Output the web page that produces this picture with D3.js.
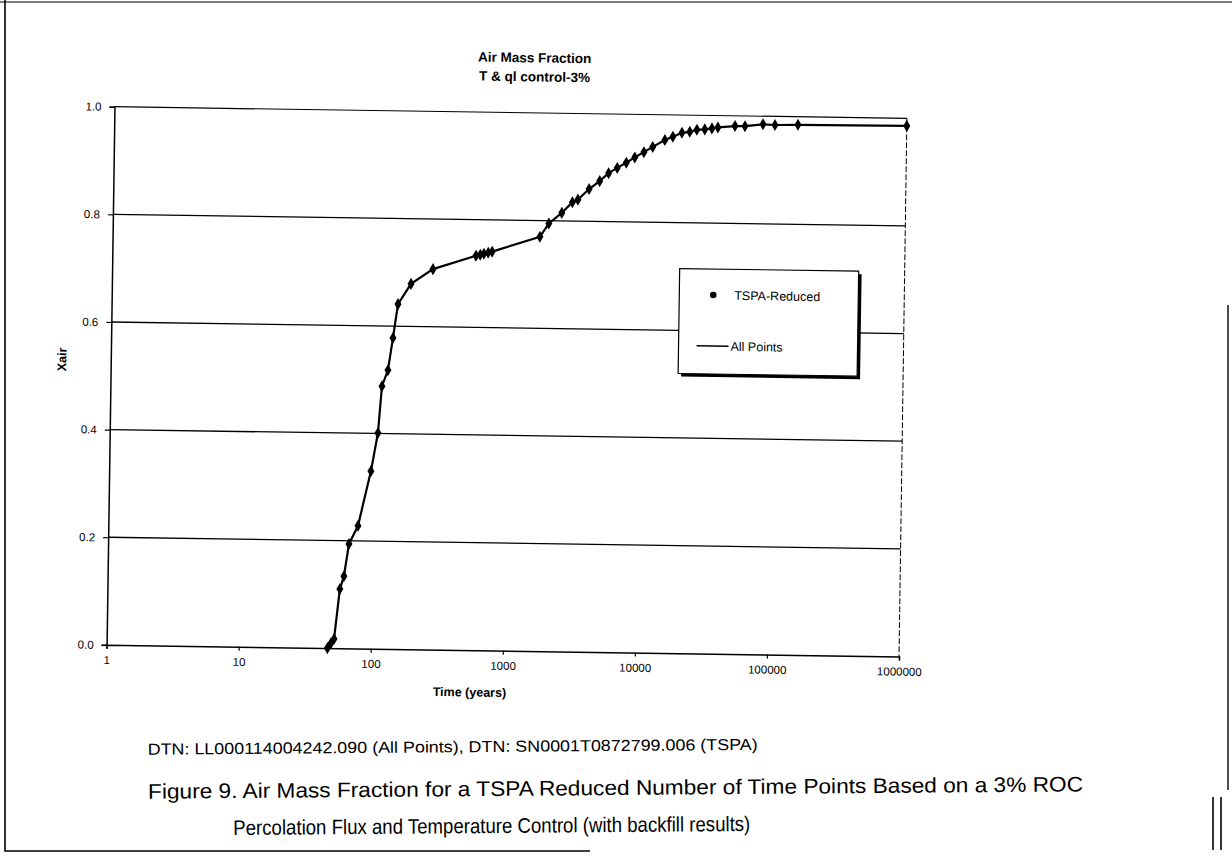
<!DOCTYPE html>
<html>
<head>
<meta charset="utf-8">
<script src="https://cdn.jsdelivr.net/npm/d3@7"></script>
<style>
  html, body { margin: 0; padding: 0; background: #fff; }
  svg { display: block; }
  text { font-family: "Liberation Sans", Arial, sans-serif; fill: #000; }
</style>
</head>
<body>
<svg id="fig" width="1232" height="861"></svg>
<script>
// Air mass fraction (Xair) vs. time, TSPA reduced time points
const years = [47, 49.9, 52.6, 57.5, 61.5, 66.6, 77.6, 95.9, 107.3, 113.7, 125.7, 136.1, 147.3, 183.8, 268.6,
  566, 610, 650, 700, 750, 1718, 2000, 2500, 3000, 3300, 4000, 4800, 5600, 6500, 7600, 8800, 10300, 12000,
  14800, 17000, 19900, 22800, 25800, 29600, 33500, 37200, 50100, 59600, 81500, 100500, 150000, 1000000];
const xair = [0.0, 0.009, 0.017, 0.110, 0.134, 0.194, 0.228, 0.330, 0.401, 0.488, 0.518, 0.578, 0.641, 0.679, 0.707,
  0.733, 0.735, 0.737, 0.739, 0.741, 0.770, 0.795, 0.815, 0.835, 0.840, 0.860, 0.875, 0.890, 0.900, 0.910, 0.920, 0.930, 0.940,
  0.953, 0.9595, 0.967, 0.969, 0.973, 0.974, 0.976, 0.978, 0.981, 0.981, 0.985, 0.984, 0.985, 0.986];

const xTickValues = [1, 10, 100, 1000, 10000, 100000, 1000000];
const yTickValues = [0, 0.2, 0.4, 0.6, 0.8, 1.0];

const titleLines = ["Air Mass Fraction", "T & ql control-3%"];
const xTitle = "Time (years)";
const yTitle = "Xair";
const legendLabels = ["TSPA-Reduced", "All Points"];
const dtnLine = "DTN:  LL000114004242.090 (All Points), DTN:  SN0001T0872799.006 (TSPA)";
const captionLines = [
  "Figure 9.  Air Mass Fraction for a TSPA Reduced Number of Time Points Based on a 3% ROC",
  "Percolation Flux and Temperature Control (with backfill results)"
];

const plot = { left: 110.5, right: 903, top: 112.5, bottom: 650.7 };

const svg = d3.select("#fig");

// page frame
svg.append("path")
  .attr("d", "M5,0 L5,851 L590,851")
  .attr("fill", "none").attr("stroke", "#000").attr("stroke-width", 1.6);
svg.append("line").attr("x1", 0).attr("x2", 1232).attr("y1", 2).attr("y2", 2)
  .attr("stroke", "#000").attr("stroke-width", 1.2);
svg.append("line").attr("x1", 1228).attr("x2", 1228).attr("y1", 305).attr("y2", 790)
  .attr("stroke", "#000").attr("stroke-width", 1.4);
svg.append("line").attr("x1", 1213).attr("x2", 1213).attr("y1", 797).attr("y2", 850)
  .attr("stroke", "#000").attr("stroke-width", 1.6);
svg.append("line").attr("x1", 1221).attr("x2", 1221).attr("y1", 797).attr("y2", 850)
  .attr("stroke", "#000").attr("stroke-width", 1.6);

// the chart sits slightly askew on the page
const page = svg.append("g").attr("transform", "rotate(0.84, 506.8, 381.6)");

const x = d3.scaleLog().domain([1, 1e6]).range([plot.left, plot.right]);
const y = d3.scaleLinear().domain([0, 1]).range([plot.bottom, plot.top]);

// horizontal gridlines
page.append("g").selectAll("line")
  .data(yTickValues.filter(v => v > 0 && v < 1))
  .join("line")
  .attr("x1", plot.left).attr("x2", plot.right)
  .attr("y1", d => y(d)).attr("y2", d => y(d))
  .attr("stroke", "#000").attr("stroke-width", 1.3);

// plot frame
page.append("line").attr("x1", plot.left).attr("x2", plot.right)
  .attr("y1", plot.top).attr("y2", plot.top).attr("stroke", "#000").attr("stroke-width", 1.2);
page.append("line").attr("x1", plot.right).attr("x2", plot.right)
  .attr("y1", plot.top).attr("y2", plot.bottom).attr("stroke", "#000").attr("stroke-width", 1)
  .attr("stroke-dasharray", "6,2");

// axes
const xAxis = d3.axisBottom(x).tickValues(xTickValues).tickFormat(d3.format("d")).tickSize(4).tickPadding(7);
const yAxis = d3.axisLeft(y).tickValues(yTickValues).tickFormat(d3.format(".1f")).tickSize(5).tickPadding(8);

const gx = page.append("g").attr("transform", `translate(0,${plot.bottom})`).call(xAxis);
const gy = page.append("g").attr("transform", `translate(${plot.left},0)`).call(yAxis);
[gx, gy].forEach(g => {
  g.select(".domain").attr("stroke", "#000").attr("stroke-width", 1.5);
  g.selectAll(".tick line").attr("stroke", "#000").attr("stroke-width", 1.2);
  g.selectAll(".tick text").attr("font-size", 11.5).attr("font-family", "'Liberation Sans', Arial, sans-serif").attr("fill", "#000");
});

// data line and markers
const line = d3.line().x((d, i) => x(years[i])).y(d => y(d));
page.append("path")
  .attr("d", line(xair))
  .attr("fill", "none").attr("stroke", "#000").attr("stroke-width", 2.2);

const diamond = d3.symbol().type(d3.symbolDiamond).size(42);
page.append("g").selectAll("path")
  .data(xair)
  .join("path")
  .attr("d", diamond)
  .attr("transform", (d, i) => `translate(${x(years[i])},${y(d)})`)
  .attr("fill", "#000");

// titles
page.append("g").selectAll("text")
  .data(titleLines)
  .join("text")
  .attr("x", 530).attr("y", (d, i) => 62 + i * 19)
  .attr("text-anchor", "middle").attr("font-weight", "bold").attr("font-size", 13.5)
  .text(d => d);

page.append("text")
  .attr("x", 474).attr("y", 697)
  .attr("text-anchor", "middle").attr("font-weight", "bold").attr("font-size", 12.5)
  .text(xTitle);

page.append("text")
  .attr("transform", "translate(66,366) rotate(-90)")
  .attr("text-anchor", "middle").attr("font-weight", "bold").attr("font-size", 12.5)
  .text(yTitle);

// legend
const lg = page.append("g");
lg.append("rect").attr("x", 681).attr("y", 269).attr("width", 179).attr("height", 105)
  .attr("fill", "#000");
lg.append("rect").attr("x", 678).attr("y", 266).attr("width", 179).attr("height", 105)
  .attr("fill", "#fff").attr("stroke", "#000").attr("stroke-width", 1.2);
lg.append("circle").attr("cx", 712).attr("cy", 292).attr("r", 3.3).attr("fill", "#000");
lg.append("text").attr("x", 733).attr("y", 296.5).attr("font-size", 12.5).text(legendLabels[0]);
lg.append("line").attr("x1", 696).attr("x2", 728).attr("y1", 343).attr("y2", 343)
  .attr("stroke", "#000").attr("stroke-width", 1.6);
lg.append("text").attr("x", 730).attr("y", 347.5).attr("font-size", 12.5).text(legendLabels[1]);

// caption block, tilted slightly the other way
const cap = svg.append("g").attr("transform", "rotate(-0.45, 616, 790)");
cap.append("text")
  .attr("x", 148).attr("y", 751)
  .attr("font-family", "'Liberation Sans Narrow', 'Liberation Sans', Arial, sans-serif")
  .attr("font-size", 16)
  .attr("textLength", 610).attr("lengthAdjust", "spacingAndGlyphs")
  .text(dtnLine);

cap.append("g").selectAll("text")
  .data(captionLines)
  .join("text")
  .attr("x", (d, i) => i === 0 ? 148 : 233)
  .attr("y", (d, i) => 795 + i * 37)
  .attr("font-family", "'Liberation Sans Narrow', 'Liberation Sans', Arial, sans-serif")
  .attr("font-size", 21)
  .attr("textLength", (d, i) => i === 0 ? 935 : 517)
  .attr("lengthAdjust", "spacingAndGlyphs")
  .text(d => d);
</script>
</body>
</html>
